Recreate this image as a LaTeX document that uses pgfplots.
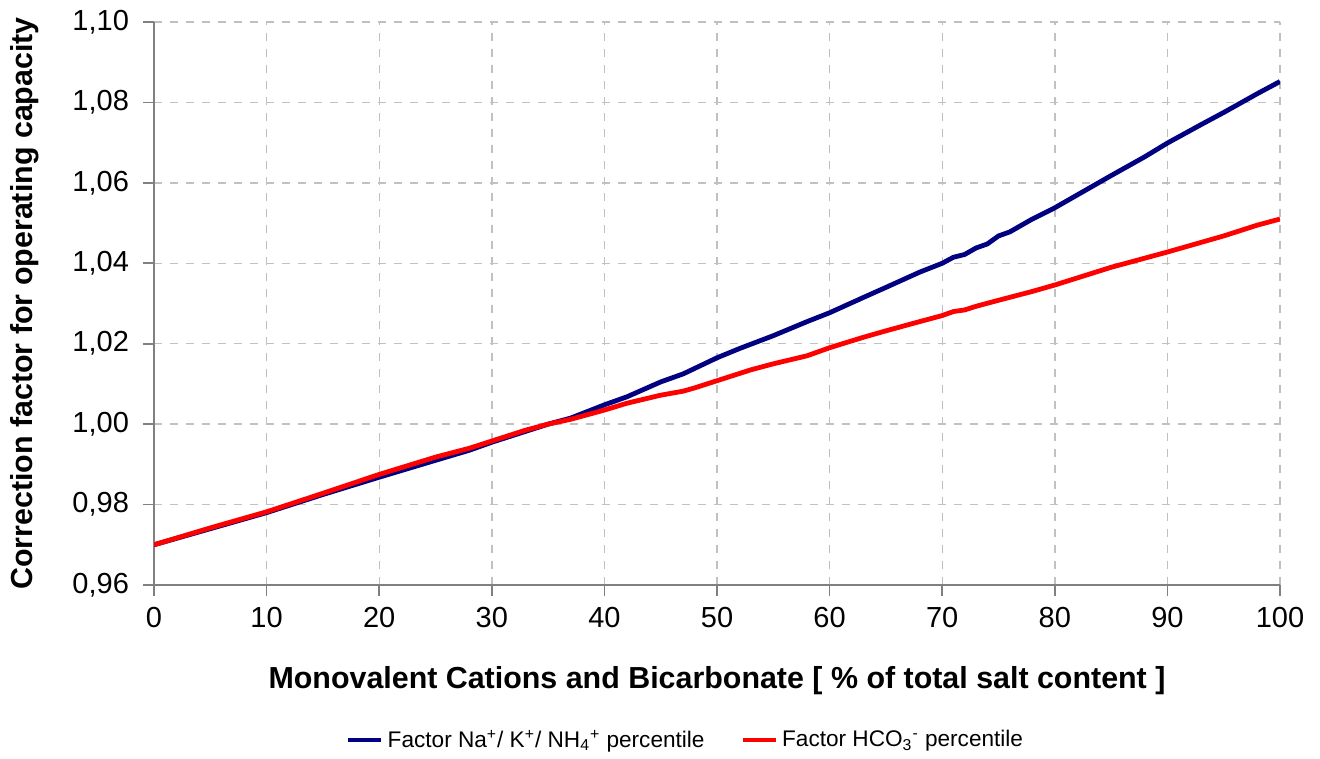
\documentclass[border=0pt]{standalone}
\usepackage{pgfplots}
\pgfplotsset{compat=1.18}
\usepackage{fontspec}
\setmainfont{Liberation Sans}
\definecolor{navyline}{HTML}{000080}
\definecolor{redline}{HTML}{FF0000}
\definecolor{gridgray}{HTML}{C0C0C0}
\definecolor{axisgray}{HTML}{808080}
\begin{document}
\begin{tikzpicture}
\path (-77pt,-86.5pt) rectangle (583pt,292.5pt);
\begin{axis}[
  at={(0,0)}, anchor=south west,
  scale only axis, width=563pt, height=281.5pt,
  xmin=0, xmax=100, ymin=0.96, ymax=1.10,
  xtick={0,10,...,100},
  ytick={0.96,0.98,1.00,1.02,1.04,1.06,1.08,1.10},
  axis x line=bottom, axis y line=left,
  axis line style={axisgray, line width=0.8pt, -},
  tick style={axisgray, line width=0.8pt},
  tick align=outside, major tick length=5.5pt,
  xtick pos=bottom, ytick pos=left,
  grid=major,
  major grid style={gridgray, dashed, dash pattern=on 4pt off 4pt, line width=0.7pt},
  /pgf/number format/assume math mode=true,
  yticklabel style={/pgf/number format/.cd, fixed, fixed zerofill, precision=2, use comma, /tikz/.cd, font=\fontsize{14.5}{16}\selectfont, xshift=-3.5pt},
  xticklabel style={/pgf/number format/.cd, fixed, precision=0, /tikz/.cd, font=\fontsize{14.5}{16}\selectfont, yshift=-2pt},
  xlabel={Monovalent Cations and Bicarbonate [ \% of total salt content ]},
  ylabel={Correction factor for operating capacity},
  every axis x label/.style={font=\fontsize{15.2}{17}\selectfont\bfseries, at={(axis description cs:0.5,-0.1705)}, anchor=center},
  every axis y label/.style={font=\fontsize{15.2}{17}\selectfont\bfseries, at={(axis description cs:-0.1146,0.5)}, anchor=center, rotate=90},
  legend columns=2,
  legend style={draw=none, fill=none, at={(axis description cs:0.473,-0.2753)}, anchor=center, font=\fontsize{11.3}{13}\selectfont, /tikz/every even column/.append style={column sep=16pt}},
  legend image code/.code={\draw[#1, line width=2.3pt] (-3pt,0pt) -- (13.5pt,0pt);},
]
\addplot[navyline, line width=2.4pt] coordinates {
(0,0.970) (5,0.974) (10,0.978) (15,0.9825) (20,0.9868) (25,0.9910) (28,0.9935) (30,0.9955) (33,0.9982)
(35,1.0000) (37,1.0015) (40,1.0048) (42,1.0068) (45,1.0105) (47,1.0125) (50,1.0165) (52,1.0188)
(55,1.0220) (58,1.0255) (60,1.0277) (63,1.0315) (65,1.0340) (68,1.0378) (70,1.0400) (71,1.0415)
(72,1.0422) (73,1.0438) (74,1.0448) (75,1.0468) (76,1.0478) (78,1.0510) (80,1.0538) (82,1.0570)
(85,1.0618) (88,1.0665) (90,1.0699) (93,1.0745) (95,1.0775) (98,1.0822) (100,1.0852)
};
\addplot[redline, line width=2.4pt] coordinates {
(0,0.970) (5,0.9742) (10,0.9782) (15,0.9828) (20,0.9875) (25,0.9918) (28,0.9940) (30,0.9958) (33,0.9985)
(35,1.0000) (37,1.0012) (40,1.0035) (42,1.0052) (45,1.0072) (47,1.0082) (48,1.0090) (50,1.0108)
(53,1.0135) (55,1.0150) (58,1.0170) (60,1.0190) (63,1.0216) (65,1.0232) (68,1.0255) (70,1.0270)
(71,1.0280) (72,1.0284) (73,1.0293) (75,1.0308) (78,1.0330) (80,1.0346) (85,1.0390) (90,1.0428)
(95,1.0468) (98,1.0495) (100,1.0510)
};
\legend{Factor Na\textsuperscript{+}/ K\textsuperscript{+}/ NH\textsubscript{4}\textsuperscript{+} percentile, Factor HCO\textsubscript{3}\textsuperscript{-} percentile}
\end{axis}
\end{tikzpicture}
\end{document}
